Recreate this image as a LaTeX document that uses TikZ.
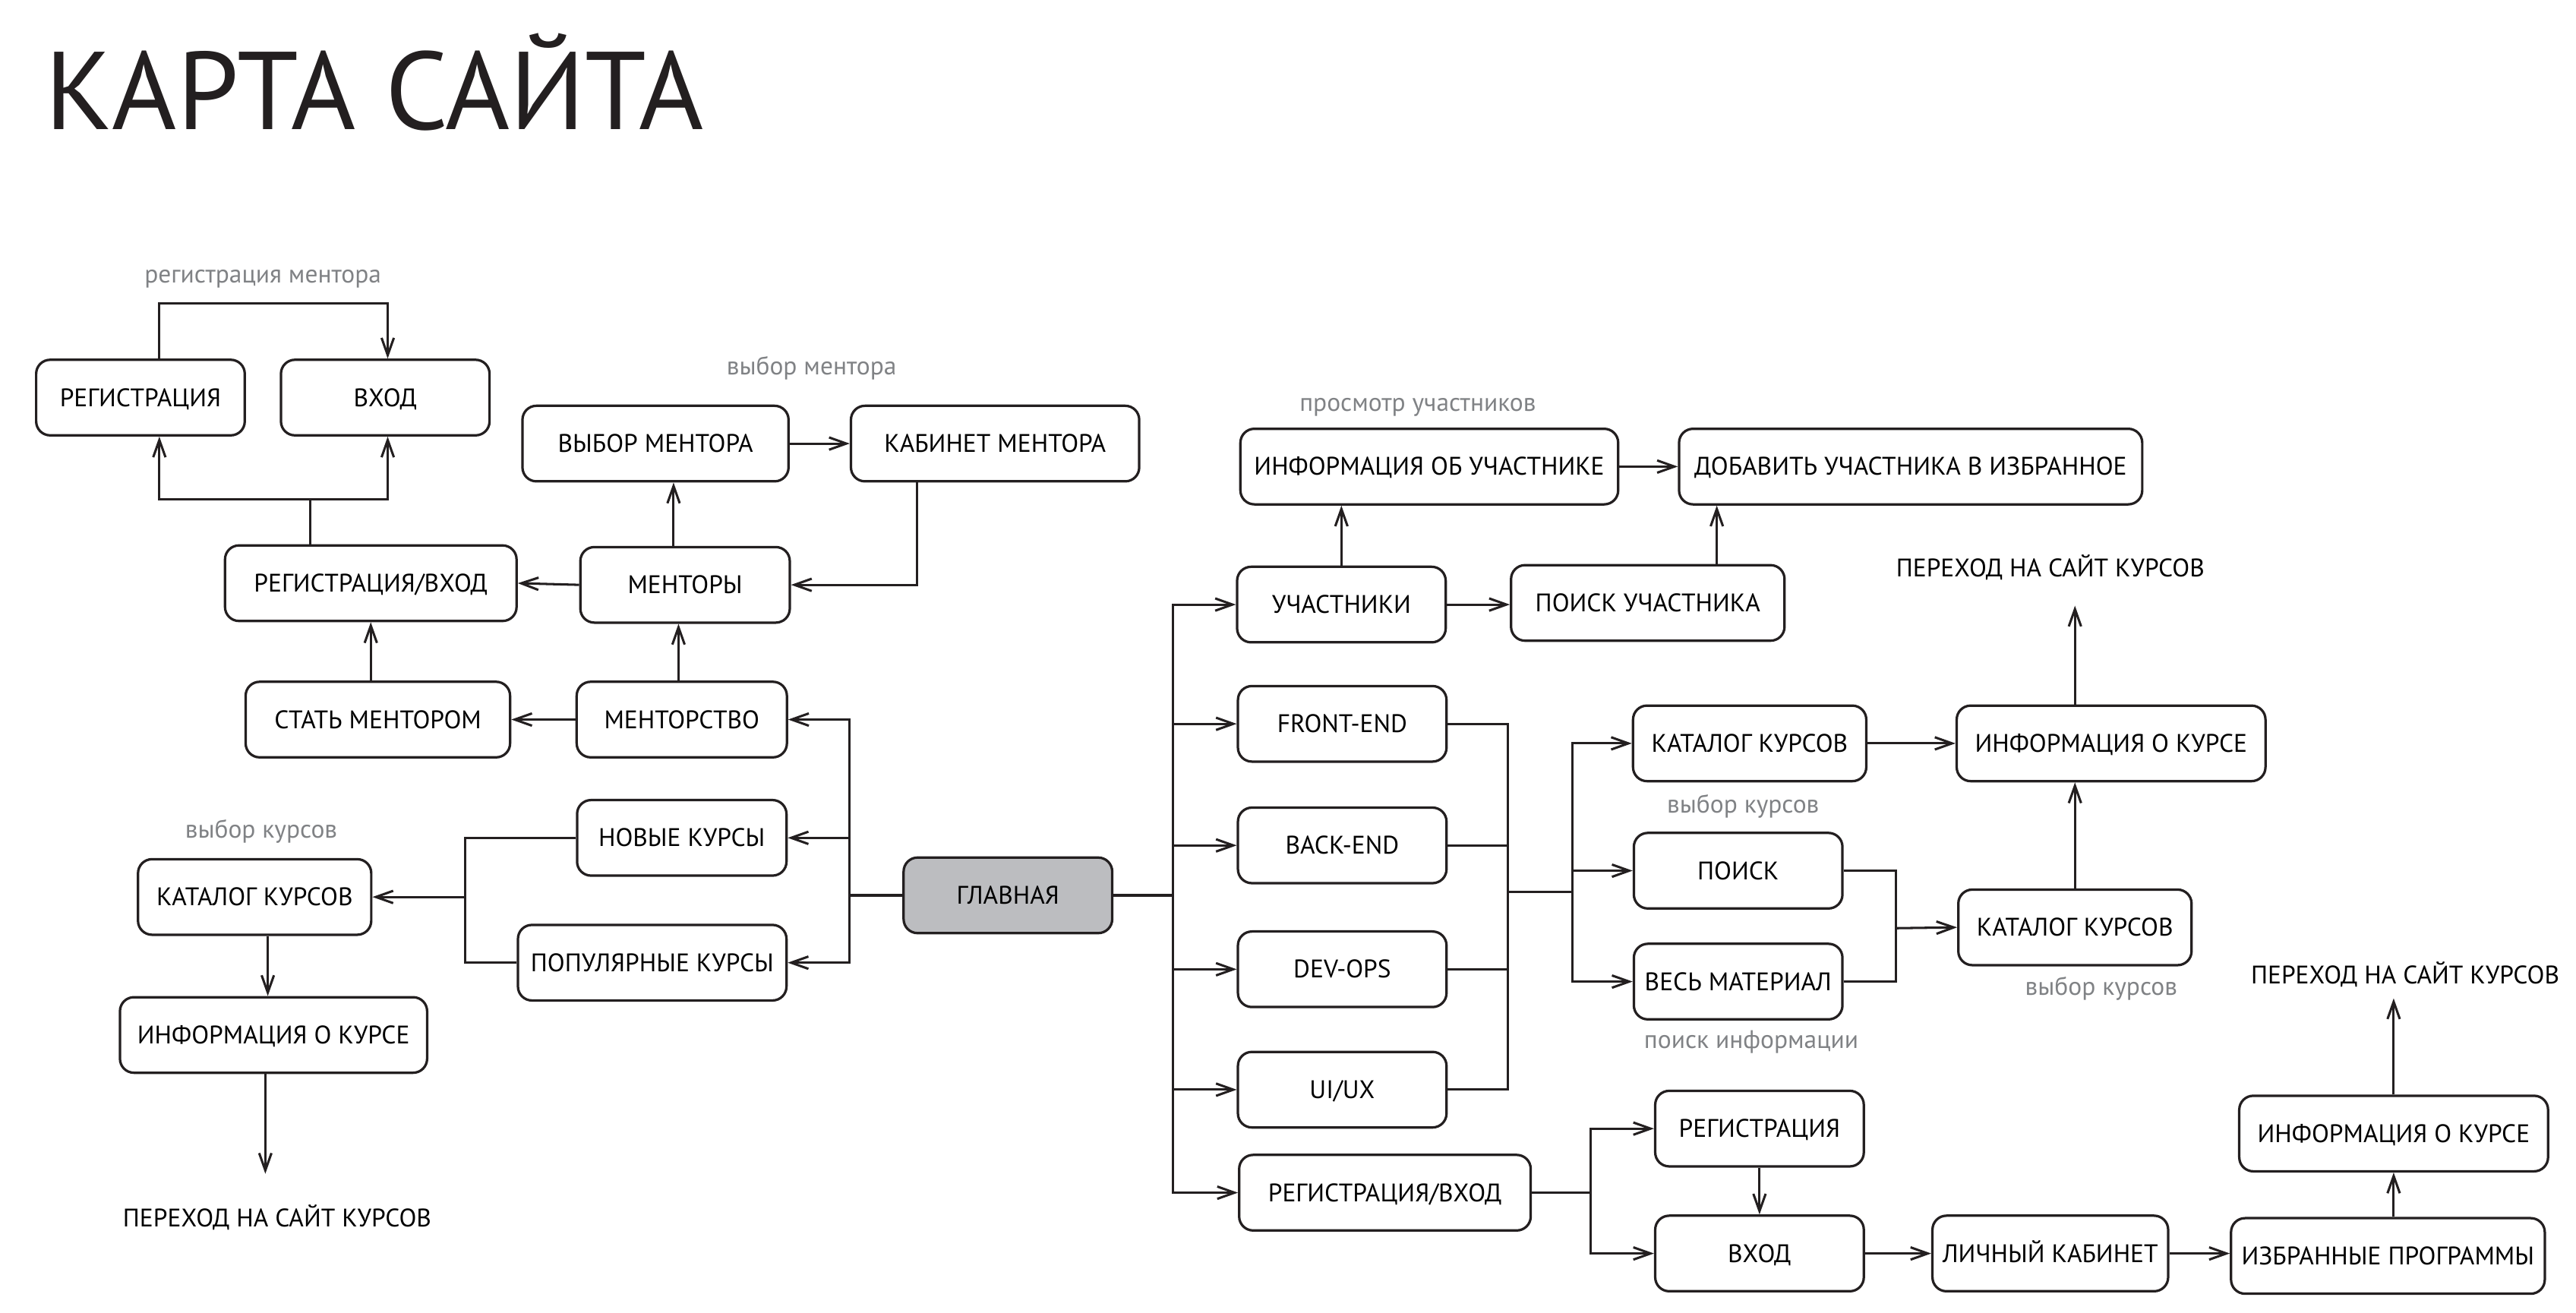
\documentclass[tikz,border=0pt]{standalone}
\usepackage{fontspec}
\setmainfont{PT Sans}
\usetikzlibrary{arrows.meta,calc}
\definecolor{lc}{HTML}{231F20}
\definecolor{lblgray}{HTML}{808285}
\definecolor{mainfill}{HTML}{BCBDC0}
\newcommand{\boxfont}{\fontsize{8.8}{10}\selectfont}
\newcommand{\lblfont}{\fontsize{8.8}{10}\selectfont}
\newcommand{\titlefont}{\fontsize{38.3}{44}\selectfont}
\tikzset{
  box/.style={draw=lc, line width=0.85pt, rounded corners=0.17cm, minimum height=0.92cm,
    inner sep=0pt, font=\boxfont, text=black, text height=6.1pt, text depth=0pt, align=center},
  lbl/.style={text=lblgray, font=\lblfont, inner sep=0pt, anchor=base},
  plain/.style={text=black, font=\boxfont, inner sep=0pt, anchor=base},
  conn/.style={draw=lc, line width=0.8pt},
  arr/.style={conn, -{Straight Barb[length=0.21cm,width=0.15cm,line width=0.8pt]}},
}
\begin{document}
\begin{tikzpicture}[x=0.02cm, y=-0.02cm]
\useasboundingbox (0,0) rectangle (1568,799);

% title
\node[anchor=base west, inner sep=0pt, font=\titlefont, text=lc] (title) at (27,78.6) {КАРТА САЙТА};

% gray labels
\node[lbl] (l1) at (160,172) {регистрация ментора};
\node[lbl] (l2) at (494,228) {выбор ментора};
\node[lbl] (l3) at (863,250.5) {просмотр участников};
\node[lbl] (l4) at (159,510) {выбор курсов};
\node[lbl] (l5) at (1061,495) {выбор курсов};
\node[lbl] (l6) at (1279,606) {выбор курсов};
\node[lbl] (l7) at (1066,638) {поиск информации};

% plain texts
\node[plain] (perL) at (168.7,746.6) {ПЕРЕХОД НА САЙТ КУРСОВ};
\node[plain] (perR1) at (1248,351) {ПЕРЕХОД НА САЙТ КУРСОВ};
\node[plain] (perR2) at (1464,599) {ПЕРЕХОД НА САЙТ КУРСОВ};

% boxes left
\node[box, minimum width=2.54cm] (reg1) at (85.5,242) {РЕГИСТРАЦИЯ};
\node[box, minimum width=2.54cm] (vhod1) at (234.5,242) {ВХОД};
\node[box, minimum width=3.24cm] (vybor) at (399,270) {ВЫБОР МЕНТОРА};
\node[box, minimum width=3.51cm] (kabm) at (605.7,270) {КАБИНЕТ МЕНТОРА};
\node[box, minimum width=3.55cm] (regvh1) at (225.7,355) {РЕГИСТРАЦИЯ/ВХОД};
\node[box, minimum width=2.55cm] (mentory) at (417,356) {МЕНТОРЫ};
\node[box, minimum width=3.22cm] (stat) at (230,438) {СТАТЬ МЕНТОРОМ};
\node[box, minimum width=2.56cm] (mentorstvo) at (415,438) {МЕНТОРСТВО};
\node[box, minimum width=2.55cm] (novye) at (415,510) {НОВЫЕ КУРСЫ};
\node[box, minimum width=3.27cm] (popul) at (397,586) {ПОПУЛЯРНЫЕ КУРСЫ};
\node[box, minimum width=2.84cm] (katL) at (155,546) {КАТАЛОГ КУРСОВ};
\node[box, minimum width=3.74cm] (infL) at (166.5,630) {ИНФОРМАЦИЯ О КУРСЕ};
\node[box, minimum width=2.54cm, fill=mainfill] (glav) at (613.5,545) {ГЛАВНАЯ};

% boxes right
\node[box, minimum width=4.6cm] (infU) at (870,284) {ИНФОРМАЦИЯ ОБ УЧАСТНИКЕ};
\node[box, minimum width=5.64cm] (dobav) at (1163,284) {ДОБАВИТЬ УЧАСТНИКА В ИЗБРАННОЕ};
\node[box, minimum width=2.54cm] (uch) at (816.5,368) {УЧАСТНИКИ};
\node[box, minimum width=3.33cm] (poiskU) at (1003,367) {ПОИСК УЧАСТНИКА};
\node[box, minimum width=2.54cm] (front) at (817,440.6) {FRONT-END};
\node[box, minimum width=2.54cm] (back) at (817,514.6) {BACK-END};
\node[box, minimum width=2.54cm] (devops) at (817,590) {DEV-OPS};
\node[box, minimum width=2.54cm] (uiux) at (817,663.3) {UI/UX};
\node[box, minimum width=3.55cm] (regvh2) at (843,726) {РЕГИСТРАЦИЯ/ВХОД};
\node[box, minimum width=2.84cm] (katR1) at (1065,452.5) {КАТАЛОГ КУРСОВ};
\node[box, minimum width=3.76cm] (infR) at (1285,452.5) {ИНФОРМАЦИЯ О КУРСЕ};
\node[box, minimum width=2.54cm] (poisk) at (1058,530) {ПОИСК};
\node[box, minimum width=2.54cm] (ves) at (1058,597.5) {ВЕСЬ МАТЕРИАЛ};
\node[box, minimum width=2.84cm] (katR2) at (1263,564.5) {КАТАЛОГ КУРСОВ};
\node[box, minimum width=2.54cm] (regR) at (1071,687) {РЕГИСТРАЦИЯ};
\node[box, minimum width=2.54cm] (vhodR) at (1071,763) {ВХОД};
\node[box, minimum width=2.87cm] (lk) at (1248,763) {ЛИЧНЫЙ КАБИНЕТ};
\node[box, minimum width=3.82cm] (izbr) at (1453.5,764.5) {ИЗБРАННЫЕ ПРОГРАММЫ};
\node[box, minimum width=3.76cm] (infFR) at (1457,690) {ИНФОРМАЦИЯ О КУРСЕ};

% junction / attachment coordinates
\coordinate (jL) at (517,545);
\coordinate (jT) at (189,304);
\coordinate (jK) at (283,546);
\coordinate (endL) at (161.5,714.5);
\coordinate (jR) at (714,545);
\coordinate (jF) at (918,543);
\coordinate (jG) at (957,543);
\coordinate (jP) at (1154,565);
\coordinate (jV) at (968,726);
\coordinate (endR1) at (1263,368.7);
\coordinate (endR2) at (1457,607.7);
\coordinate (xMs) at (413,0);
\coordinate (xMv) at (410,0);
\coordinate (xKab) at (558,0);
\coordinate (xR1) at (97,0);
\coordinate (xV1) at (236,0);
\coordinate (xKL) at (163,0);
\coordinate (xPU) at (1045,0);
\coordinate (loopTop) at (0,184.5);

% ---- left connectors
\draw[conn] (glav.west) -- (jL);
\draw[arr] (jL) |- (mentorstvo.east);
\draw[arr] (jL) |- (novye.east);
\draw[arr] (jL) |- (popul.east);
\draw[arr] (mentorstvo.north -| xMs) -- (mentory.south -| xMs);
\draw[arr] (mentorstvo.west) -- (stat.east);
\draw[arr] (regvh1.south |- stat.north) -- (regvh1.south);
\draw[arr] (mentory.west) -- (regvh1.east);
\draw[arr] (mentory.north -| xMv) -- (vybor.south -| xMv);
\draw[arr] (vybor.east) -- (kabm.west);
\draw[arr] (kabm.south -| xKab) |- (mentory.east);
\draw[conn] (regvh1.north -| jT) -- (jT);
\draw[arr] (jT) -| (reg1.south -| xR1);
\draw[arr] (jT) -| (vhod1.south -| xV1);
\draw[arr] (reg1.north -| xR1) -- (loopTop -| xR1) -- (loopTop -| xV1) -- (vhod1.north -| xV1);
\draw[conn] (novye.west) -| (jK);
\draw[conn] (popul.west) -| (jK);
\draw[arr] (jK) -- (katL.east);
\draw[arr] (katL.south -| xKL) -- (infL.north -| xKL);
\draw[arr] (infL.south -| endL) -- (endL);

% ---- right connectors
\draw[conn] (glav.east) -- (jR);
\draw[arr] (jR) |- (uch.west);
\draw[arr] (jR) |- (front.west);
\draw[arr] (jR) |- (back.west);
\draw[arr] (jR) |- (devops.west);
\draw[arr] (jR) |- (uiux.west);
\draw[arr] (jR) |- (regvh2.west);
\draw[arr] (uch.east) -- (poiskU.west |- uch.east);
\draw[arr] (uch.north) -- (uch.north |- infU.south);
\draw[arr] (infU.east) -- (dobav.west);
\draw[arr] (poiskU.north -| xPU) -- (dobav.south -| xPU);
\draw[conn] (front.east) -| (jF);
\draw[conn] (uiux.east) -| (jF);
\draw[conn] (back.east) -- (back.east -| jF);
\draw[conn] (devops.east) -- (devops.east -| jF);
\draw[conn] (jF) -- (jG);
\draw[arr] (jG) |- (katR1.west);
\draw[arr] (jG) |- (poisk.west);
\draw[arr] (jG) |- (ves.west);
\draw[arr] (katR1.east) -- (infR.west);
\draw[arr] (infR.north -| endR1) -- (endR1);
\draw[conn] (poisk.east) -| (jP);
\draw[conn] (ves.east) -| (jP);
\draw[arr] (jP) -- (katR2.west);
\draw[arr] (katR2.north) -- (katR2.north |- infR.south);
\draw[conn] (regvh2.east) -- (jV);
\draw[arr] (jV) |- (regR.west);
\draw[arr] (jV) |- (vhodR.west);
\draw[arr] (regR.south) -- (vhodR.north);
\draw[arr] (vhodR.east) -- (lk.west);
\draw[arr] (lk.east) -- (izbr.west |- lk.east);
\draw[arr] (izbr.north -| infFR.south) -- (infFR.south);
\draw[arr] (infFR.north -| endR2) -- (endR2);
\end{tikzpicture}
\end{document}
